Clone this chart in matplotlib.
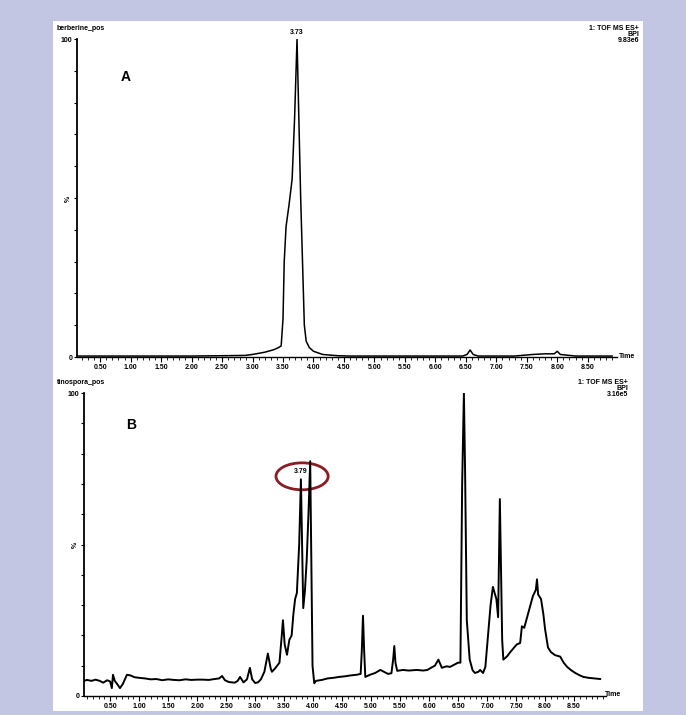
import matplotlib
matplotlib.use("Agg")
import matplotlib.pyplot as plt
from matplotlib.patches import Rectangle, Ellipse
from matplotlib.ticker import MultipleLocator, FixedLocator, FixedFormatter

# ---------------- data ----------------
# Panel A: berberine standard (time in min, relative intensity %)
a_time = [0.12, 0.5, 1.0, 1.5, 2.0, 2.5, 2.88, 3.0, 3.2, 3.35, 3.43, 3.47, 3.50, 3.52,
          3.55, 3.60, 3.65, 3.69, 3.73, 3.76, 3.79, 3.82, 3.85, 3.88, 3.93, 4.0, 4.15,
          4.4, 4.6, 5.0, 6.0, 6.45, 6.52, 6.57, 6.62, 6.7, 7.3, 7.6, 7.8, 7.95, 8.0,
          8.05, 8.3, 8.9]
a_int = [0.3, 0.3, 0.3, 0.3, 0.3, 0.4, 0.5, 0.8, 1.5, 2.3, 3.0, 3.5, 12, 30,
         41, 48, 56, 75, 100, 75, 50, 30, 10, 5, 3, 1.8, 0.8,
         0.4, 0.3, 0.3, 0.3, 0.3, 0.8, 2.2, 0.8, 0.3, 0.3, 0.8, 1.0, 1.0, 1.8,
         0.8, 0.3, 0.3]

# Panel B: Tinospora extract
b_time = [0.05, 0.10, 0.18, 0.25, 0.32, 0.38, 0.45, 0.50, 0.53, 0.55, 0.58, 0.62, 0.67,
          0.72, 0.79, 0.85, 0.92, 1.00, 1.10, 1.20, 1.30, 1.40, 1.50, 1.60, 1.70, 1.80,
          1.90, 2.00, 2.10, 2.20, 2.30, 2.38, 2.43, 2.48, 2.55, 2.65, 2.70, 2.74, 2.80,
          2.86, 2.91, 2.95, 3.00, 3.05, 3.10, 3.16, 3.22, 3.27, 3.29, 3.34, 3.38, 3.42,
          3.46, 3.48, 3.51, 3.55, 3.59, 3.63, 3.66, 3.69, 3.72, 3.76, 3.79, 3.81, 3.83,
          3.86, 3.89, 3.92, 3.95, 3.97, 3.99, 4.02, 4.05, 4.15, 4.25, 4.35, 4.45, 4.55,
          4.65, 4.75, 4.82, 4.84, 4.86, 4.88, 4.90, 4.98, 5.07, 5.16, 5.22, 5.29, 5.35,
          5.38, 5.40, 5.42, 5.45, 5.55, 5.65, 5.79, 5.90, 5.97, 6.05, 6.10, 6.16, 6.22,
          6.30, 6.36, 6.45, 6.50, 6.54, 6.57, 6.60, 6.62, 6.65, 6.70, 6.75, 6.79, 6.85,
          6.88, 6.93, 6.97, 7.02, 7.06, 7.10, 7.16, 7.19, 7.22, 7.26, 7.28, 7.34, 7.40,
          7.51, 7.57, 7.60, 7.64, 7.69, 7.74, 7.79, 7.84, 7.86, 7.88, 7.93, 7.97, 8.00,
          8.05, 8.10, 8.17, 8.26, 8.32, 8.38, 8.45, 8.52, 8.60, 8.66, 8.75, 8.85, 8.95]
b_int = [5.0, 5.3, 5.0, 5.4, 5.0, 4.4, 5.2, 4.8, 2.6, 7.0, 5.0, 4.0, 2.6,
         4.0, 7.0, 6.8, 6.2, 6.0, 5.8, 5.5, 5.6, 5.2, 5.5, 5.3, 5.2, 5.5,
         5.3, 5.4, 5.4, 5.3, 5.6, 5.8, 6.6, 5.2, 4.6, 4.4, 5.0, 6.3, 4.5,
         5.5, 9.3, 5.5, 4.3, 4.5, 5.5, 8.0, 14.0, 9.0, 8.0, 9.0, 10.0, 11.0,
         20.0, 25.0, 17.0, 13.6, 18.5, 20.0, 27.0, 32.0, 34.0, 50.0, 71.5, 50.0, 29.0,
         35.0, 45.0, 60.0, 77.5, 45.0, 10.0, 4.2, 5.0, 5.3, 5.8, 6.0, 6.3, 6.5,
         6.8, 7.0, 7.3, 15.0, 26.5, 15.0, 6.3, 7.0, 7.6, 8.6, 8.0, 7.3, 7.5,
         12.0, 16.5, 11.0, 8.3, 8.6, 8.4, 8.6, 8.4, 8.6, 9.5, 10.0, 12.0, 9.3,
         9.8, 9.6, 10.5, 11.0, 11.0, 70.0, 100.0, 75.0, 25.0, 12.0, 8.5, 7.6, 8.0,
         8.6, 7.6, 9.6, 21.0, 30.0, 36.0, 32.0, 26.0, 65.0, 18.5, 12.0, 13.0, 14.5,
         17.0, 17.5, 23.0, 22.5, 26.0, 29.5, 33.0, 35.0, 38.5, 33.5, 32.0, 27.0, 22.0,
         16.0, 14.5, 13.5, 13.0, 11.0, 9.6, 8.5, 7.6, 6.8, 6.3, 6.0, 5.8, 5.6]

x_major = [0.5, 1.0, 1.5, 2.0, 2.5, 3.0, 3.5, 4.0, 4.5, 5.0, 5.5, 6.0, 6.5, 7.0, 7.5, 8.0, 8.5]
x_labels = ["0.50", "1.00", "1.50", "2.00", "2.50", "3.00", "3.50", "4.00", "4.50",
            "5.00", "5.50", "6.00", "6.50", "7.00", "7.50", "8.00", "8.50"]
y_ticks = [0, 50, 100]
y_labels = ["0", "%", "100"]

# ---------------- figure ----------------
W, H = 686, 715
fig = plt.figure(figsize=(W / 100, H / 100), dpi=100)
fig.patch.set_facecolor("#c3c6e2")
plt.rcParams["font.family"] = ["Liberation Sans", "DejaVu Sans"]


def fx(px):
    return px / W


def fy(py):
    return 1 - py / H


fig.patches.append(Rectangle((fx(53), fy(711)), fx(643) - fx(53), fy(21) - fy(711),
                             transform=fig.transFigure, facecolor="white",
                             edgecolor="none", zorder=-5))

FS = 5.0


def style_axes(ax, xlim):
    ax.set_facecolor("none")
    ax.set_xlim(*xlim)
    ax.set_ylim(0, 100)
    for s in ("top", "right"):
        ax.spines[s].set_visible(False)
    ax.spines["left"].set_linewidth(1.3)
    ax.spines["bottom"].set_linewidth(1.0)
    ax.xaxis.set_major_locator(FixedLocator(x_major))
    ax.xaxis.set_major_formatter(FixedFormatter(x_labels))
    ax.xaxis.set_minor_locator(MultipleLocator(0.1))
    ax.yaxis.set_major_locator(FixedLocator(y_ticks))
    ax.yaxis.set_major_formatter(FixedFormatter(y_labels))
    ax.yaxis.set_minor_locator(MultipleLocator(10))
    ax.tick_params(axis="x", which="major", length=3.5, width=0.8, labelsize=FS, pad=1.5,
                   direction="out")
    ax.tick_params(axis="x", which="minor", length=1.8, width=0.6, direction="out")
    ax.tick_params(axis="y", which="major", length=2.5, width=0.8, labelsize=FS, pad=1,
                   direction="out")
    ax.tick_params(axis="y", which="minor", length=2.5, width=0.8, direction="out")
    for lab in ax.get_xticklabels() + ax.get_yticklabels():
        lab.set_fontweight("bold")
        if lab.get_text() == "%":
            lab.set_rotation(90)


# ---------------- Panel A ----------------
axA = fig.add_axes([fx(77), fy(357), fx(617) - fx(77), fy(39) - fy(357)])
style_axes(axA, (0.12, 8.98))
axA.plot(a_time, a_int, color="black", lw=1.1)
axA.text(3.73, 101, "3.73", fontsize=FS, fontweight="bold", ha="center", va="bottom")

fig.text(fx(57), fy(29), "berberine_pos", fontsize=FS, fontweight="bold", va="center")
fig.text(fx(639), fy(29), "1: TOF MS ES+", fontsize=FS, fontweight="bold", ha="right", va="center")
fig.text(fx(639), fy(35), "BPI", fontsize=FS, fontweight="bold", ha="right", va="center")
fig.text(fx(639), fy(41), "9.83e6", fontsize=FS, fontweight="bold", ha="right", va="center")
fig.text(fx(627), fy(357), "Time", fontsize=FS, fontweight="bold", ha="center", va="center")
fig.text(fx(126), fy(77), "A", fontsize=10, fontweight="bold", ha="center", va="center")

# ---------------- Panel B ----------------
axB = fig.add_axes([fx(84), fy(696), fx(606) - fx(84), fy(393) - fy(696)])
style_axes(axB, (0.05, 9.05))
axB.plot(b_time, b_int, color="black", lw=1.4)
axB.text(3.79, 73, "3.79", fontsize=FS, fontweight="bold", ha="center", va="bottom")
axB.add_patch(Ellipse((3.81, 72.5), 0.9, 8.9, facecolor="none", edgecolor="#8b1c22",
                      lw=2.0, clip_on=False))

fig.text(fx(57), fy(383), "tinospora_pos", fontsize=FS, fontweight="bold", va="center")
fig.text(fx(628), fy(382), "1: TOF MS ES+", fontsize=FS, fontweight="bold", ha="right", va="center")
fig.text(fx(628), fy(388), "BPI", fontsize=FS, fontweight="bold", ha="right", va="center")
fig.text(fx(628), fy(394), "3.16e5", fontsize=FS, fontweight="bold", ha="right", va="center")
fig.text(fx(613), fy(695), "Time", fontsize=FS, fontweight="bold", ha="center", va="center")
fig.text(fx(131), fy(425), "B", fontsize=10, fontweight="bold", ha="center", va="center")

fig.savefig("out.png", dpi=100, facecolor=fig.get_facecolor())
